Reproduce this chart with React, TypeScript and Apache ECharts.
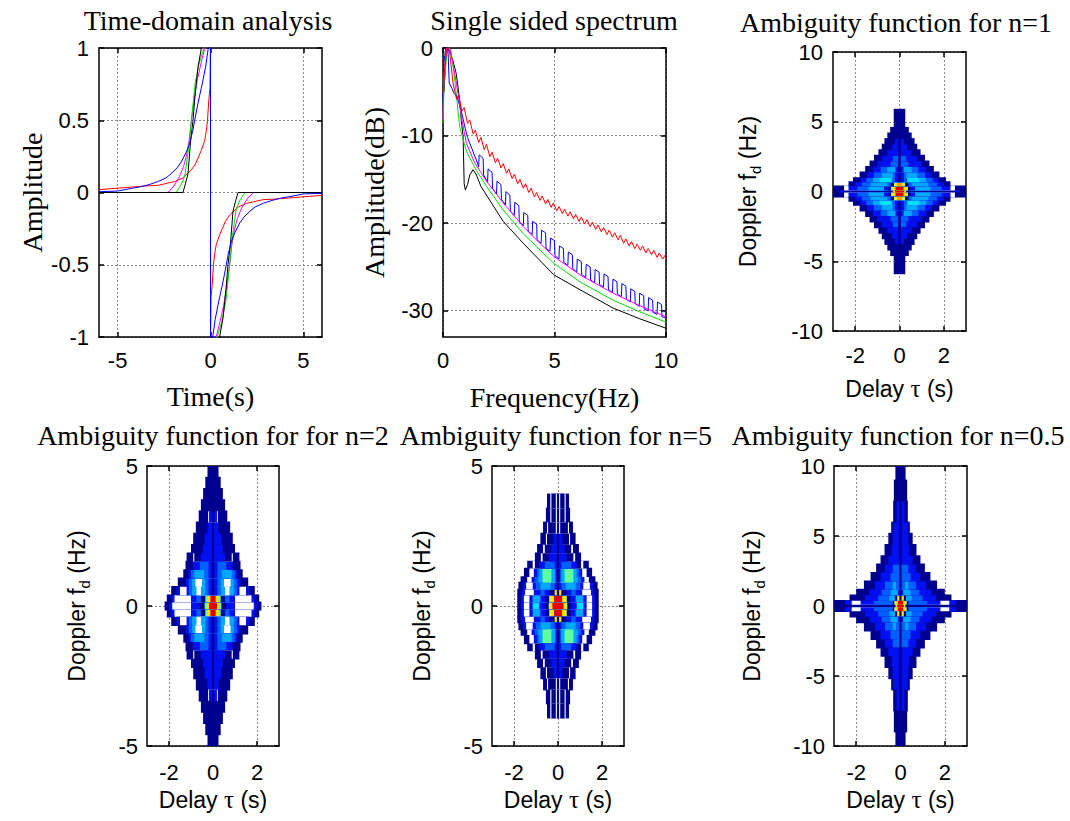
import React, { useEffect, useRef } from "react";
import * as echarts from "echarts";

// ---------- Time-domain analysis (t < 0 half; the curves are odd in t) ----------
const TIME_RED: number[][] = [[-6, 0.02], [-4.5, 0.035], [-3.5, 0.045], [-2.8, 0.05], [-2.3, 0.065], [-1.94, 0.075], [-1.5, 0.1], [-1.03, 0.156], [-0.8, 0.2], [-0.67, 0.24], [-0.5, 0.29], [-0.31, 0.36], [-0.22, 0.43], [-0.16, 0.5], [-0.09, 0.64], [-0.03, 0.72]];
const TIME_MAGENTA: number[][] = [[-6, 0], [-2.3, 0], [-2.0, 0.04], [-1.67, 0.11], [-1.45, 0.18], [-1.3, 0.25], [-1.15, 0.36], [-1.03, 0.5], [-0.9, 0.62], [-0.71, 0.78], [-0.5, 0.9], [-0.31, 1.0], [-0.2, 1.05]];
const TIME_GREEN: number[][] = [[-6, 0], [-1.85, 0], [-1.6, 0.05], [-1.39, 0.11], [-1.18, 0.3], [-1.03, 0.5], [-0.82, 0.76], [-0.6, 0.9], [-0.35, 1.0], [-0.25, 1.05]];
const TIME_BLACK: number[][] = [[-6, 0], [-1.48, 0], [-1.35, 0.06], [-1.21, 0.13], [-1.07, 0.36], [-0.94, 0.5], [-0.82, 0.69], [-0.67, 0.87], [-0.49, 1.0], [-0.4, 1.05]];
const TIME_BLUE: number[][] = [[-6, 0.005], [-5, 0.01], [-4.2, 0.03], [-3.75, 0.04], [-3.3, 0.055], [-2.84, 0.075], [-2.4, 0.1], [-2.12, 0.13], [-1.8, 0.17], [-1.58, 0.21], [-1.3, 0.28], [-1.12, 0.34], [-0.95, 0.43], [-0.85, 0.5], [-0.67, 0.62], [-0.5, 0.72], [-0.4, 0.78], [-0.25, 0.88], [-0.13, 0.99], [-0.05, 1.05]];

// ---------- Single sided spectrum (Hz, dB) ----------
const SPEC_RED: number[][] = [[0, -5], [0.1, -1.5], [0.2, 0], [0.3, -0.5], [0.45, -4.0], [0.6, -5.8], [0.7, -5.4], [0.85, -7.2], [0.95, -6.8], [1.1, -8.6], [1.2, -8.2], [1.35, -9.8], [1.45, -9.4], [1.6, -10.8], [1.7, -10.2], [1.85, -11.6], [1.95, -11.0], [2.1, -12.4], [2.2, -11.9], [2.35, -13.1], [2.45, -12.6], [2.6, -13.7], [2.7, -13.2], [2.85, -14.3], [2.95, -13.8], [3.1, -14.9], [3.2, -14.4], [3.35, -15.5], [3.45, -15.0], [3.6, -16.0], [3.7, -15.5], [3.85, -16.5], [3.95, -16.0], [4.1, -17.0], [4.2, -16.5], [4.35, -17.4], [4.45, -16.9], [4.6, -17.8], [4.7, -17.3], [4.85, -18.2], [4.95, -17.7], [5.1, -18.6], [5.2, -18.1], [5.35, -18.9], [5.45, -18.4], [5.6, -19.2], [5.7, -18.7], [5.85, -19.5], [5.95, -19.0], [6.1, -19.8], [6.2, -19.3], [6.35, -20.1], [6.45, -19.6], [6.6, -20.4], [6.7, -19.9], [6.85, -20.7], [6.95, -20.2], [7.1, -21.0], [7.2, -20.5], [7.35, -21.3], [7.45, -20.8], [7.6, -21.6], [7.7, -21.1], [7.85, -21.9], [7.95, -21.4], [8.1, -22.3], [8.2, -21.8], [8.35, -22.6], [8.45, -22.1], [8.6, -22.9], [8.7, -22.4], [8.85, -23.1], [8.95, -22.6], [9.1, -23.4], [9.2, -22.9], [9.35, -23.6], [9.45, -23.1], [9.6, -23.9], [9.7, -23.4], [9.85, -24.1], [9.95, -23.7], [10, -24.0]];
const SPEC_BLUE: number[][] = [[0, -6], [0.05, -1.5], [0.12, 0], [0.22, 0], [0.28, -4.0], [0.4, -4.6], [0.5, -5.2], [0.6, -5.4], [0.7, -6.2], [0.8, -7.0], [0.9, -8.1], [1.0, -9.2], [1.1, -10.2], [1.2, -10.9], [1.3, -11.5], [1.4, -12.2], [1.5, -12.8],
  [1.6, -13.6], [1.62, -12.2], [1.8, -12.6], [1.82, -14.5], [2.0, -15.3], [2.02, -13.8], [2.2, -14.2], [2.22, -16.0], [2.4, -16.7], [2.42, -15.2], [2.6, -15.6], [2.62, -17.3], [2.8, -17.9], [2.82, -16.4], [3.0, -16.8], [3.02, -18.6], [3.2, -19.1], [3.22, -17.6], [3.4, -18.0], [3.42, -19.8], [3.6, -20.3], [3.62, -18.8], [3.8, -19.1], [3.82, -20.9], [4.0, -21.3], [4.02, -19.8], [4.2, -20.1], [4.22, -21.9], [4.4, -22.3], [4.42, -20.8], [4.6, -21.1], [4.62, -22.9], [4.8, -23.2], [4.82, -21.7], [5.0, -22.0], [5.02, -23.7], [5.2, -24.1], [5.22, -22.6], [5.4, -22.9], [5.42, -24.5], [5.6, -24.8], [5.62, -23.3], [5.8, -23.6], [5.82, -25.2], [6.0, -25.6], [6.02, -24.1], [6.2, -24.4], [6.22, -25.9], [6.4, -26.2], [6.42, -24.7], [6.6, -25.0], [6.62, -26.5], [6.8, -26.8], [6.82, -25.3], [7.0, -25.6], [7.02, -27.0], [7.2, -27.3], [7.22, -25.8], [7.4, -26.1], [7.42, -27.6], [7.6, -27.9], [7.62, -26.4], [7.8, -26.7], [7.82, -28.1], [8.0, -28.4], [8.02, -26.9], [8.2, -27.2], [8.22, -28.7], [8.4, -29.0], [8.42, -27.5], [8.6, -27.8], [8.62, -29.2], [8.8, -29.5], [8.82, -28.0], [9.0, -28.3], [9.02, -29.8], [9.2, -30.0], [9.22, -28.5], [9.4, -28.8], [9.42, -30.2], [9.6, -30.4], [9.62, -29.0], [9.8, -29.3], [9.82, -30.7], [10, -30.8]];
const SPEC_MAGENTA: number[][] = [[0, -8.2], [0.05, -3], [0.15, 0], [0.3, 0], [0.45, -1.8], [0.6, -4.0], [0.82, -7.8], [1.05, -10.9], [1.42, -13.1], [1.95, -15.2], [2.7, -17.7], [3.6, -20.4], [4.3, -22.2], [4.97, -23.8], [6.14, -25.9], [7.63, -28.0], [8.8, -29.4], [10, -30.7]];
const SPEC_GREEN: number[][] = [[0, -8.5], [0.05, -4], [0.2, 0], [0.35, -0.2], [0.5, -3], [0.75, -9.0], [1.05, -11.8], [1.5, -14.0], [1.95, -15.8], [2.7, -18.5], [3.6, -21.2], [4.97, -24.6], [6.14, -26.7], [7.63, -28.8], [8.8, -30.1], [10, -31.3]];
const SPEC_BLACK: number[][] = [[0.05, -5], [0.15, 0], [0.3, -0.3], [0.45, -1.5], [0.6, -3], [0.75, -6], [0.82, -8.3], [0.9, -10], [0.95, -15.5], [1.0, -16.2], [1.1, -15.6], [1.2, -14.5], [1.35, -13.9], [1.5, -14.5], [1.7, -15.8], [2.0, -17.0], [2.7, -19.8], [3.6, -22.3], [4.97, -25.9], [6.14, -27.6], [7.63, -29.7], [8.8, -30.9], [10, -32.0]];

// ---------- Ambiguity functions: upper-half doppler bands [from, to] (Hz) with
// [colour level, outer delay edge (s)] segments read from the axis outward ----------
type Row = [number, number, number[][]];
const AF_N1_ROWS: Row[] = [
  [0, 0.1, [[9, 0.2], [10, 0.3], [1, 2.5], [2, 2.7], [1, 3.0]]],
  [0.1, 0.4, [[9, 0.18], [10, 0.3], [7, 0.38], [1, 0.5], [2, 0.7], [4, 1.4], [3, 1.9], [2, 2.3], [0, 2.5], [1, 3.0]]],
  [0.4, 0.7, [[8, 0.12], [7, 0.25], [1, 0.4], [3, 0.55], [4, 1.3], [3, 1.7], [2, 2.0], [1, 2.3]]],
  [0.7, 1.0, [[1, 0.06], [2, 0.2], [3, 0.35], [5, 0.9], [4, 1.2], [3, 1.5], [2, 1.75], [1, 2.1]]],
  [1.0, 1.4, [[1, 0.06], [2, 0.2], [3, 0.3], [4, 0.8], [3, 1.15], [2, 1.45], [1, 1.8]]],
  [1.4, 1.8, [[1, 0.06], [2, 0.18], [4, 0.55], [3, 0.85], [2, 1.2], [1, 1.55]]],
  [1.8, 2.2, [[1, 0.06], [3, 0.4], [2, 1.0], [1, 1.35]]],
  [2.2, 2.6, [[1, 0.06], [3, 0.3], [2, 0.8], [1, 1.15]]],
  [2.6, 3.0, [[1, 0.06], [2, 0.55], [1, 0.95]]],
  [3.0, 3.4, [[1, 0.06], [2, 0.35], [1, 0.8]]],
  [3.4, 3.8, [[1, 0.06], [2, 0.2], [1, 0.68]]],
  [3.8, 4.2, [[1, 0.55]]],
  [4.2, 4.6, [[1, 0.42]]],
  [4.6, 5.9, [[1, 0.26]]],
];
const AF_N2_ROWS: Row[] = [
  [0, 0.15, [[9, 0.18], [10, 0.28], [6, 0.38], [1, 0.6], [2, 1.0], [0, 1.85], [2, 2.0], [1, 2.2]]],
  [0.15, 0.4, [[9, 0.12], [10, 0.25], [6, 0.35], [1, 0.55], [3, 0.75], [2, 1.0], [0, 1.75], [2, 1.9], [1, 2.1]]],
  [0.4, 0.7, [[1, 0.05], [2, 0.2], [3, 0.35], [4, 0.55], [0, 0.75], [4, 0.95], [3, 1.1], [2, 1.2], [0, 1.5], [2, 1.65], [1, 1.9]]],
  [0.7, 1.0, [[1, 0.05], [2, 0.2], [3, 0.35], [4, 0.5], [0, 0.8], [4, 0.95], [3, 1.1], [2, 1.25], [1, 1.6]]],
  [1.0, 1.3, [[1, 0.05], [2, 0.2], [3, 0.4], [4, 0.85], [3, 1.0], [2, 1.1], [1, 1.35]]],
  [1.3, 1.6, [[1, 0.05], [2, 0.2], [3, 0.6], [2, 0.9], [1, 1.25]]],
  [1.6, 1.9, [[1, 0.05], [2, 0.55], [1, 0.85], [0, 0.9], [1, 1.2]]],
  [1.9, 2.2, [[1, 0.05], [2, 0.45], [1, 1.0]]],
  [2.2, 2.6, [[1, 0.05], [2, 0.38], [1, 0.9]]],
  [2.6, 3.0, [[1, 0.05], [2, 0.25], [1, 0.78]]],
  [3.0, 3.4, [[1, 0.05], [2, 0.18], [0, 0.22], [1, 0.65]]],
  [3.4, 3.8, [[1, 0.55]]],
  [3.8, 4.2, [[1, 0.45]]],
  [4.2, 4.6, [[1, 0.35]]],
  [4.6, 5.0, [[1, 0.25]]],
];
const AF_N5_ROWS: Row[] = [
  [0, 0.15, [[9, 0.25], [10, 0.35], [7, 0.42], [1, 0.6], [2, 0.85], [5, 1.15], [2, 1.3], [0, 1.55], [2, 1.68], [1, 1.85]]],
  [0.15, 0.4, [[9, 0.18], [10, 0.3], [7, 0.4], [1, 0.58], [2, 0.8], [4, 1.15], [2, 1.3], [0, 1.55], [2, 1.68], [1, 1.85]]],
  [0.4, 0.6, [[1, 0.05], [10, 0.15], [1, 0.4], [2, 0.6], [3, 0.8], [2, 1.1], [0, 1.5], [2, 1.65], [1, 1.85]]],
  [0.6, 0.85, [[1, 0.05], [2, 0.15], [3, 0.35], [4, 0.8], [3, 1.0], [2, 1.15], [0, 1.45], [2, 1.6], [1, 1.8]]],
  [0.85, 1.05, [[1, 0.05], [2, 0.12], [4, 0.3], [6, 0.7], [4, 0.9], [3, 1.05], [2, 1.2], [0, 1.4], [1, 1.7]]],
  [1.05, 1.35, [[1, 0.05], [2, 0.12], [4, 0.3], [6, 0.7], [4, 0.85], [3, 0.95], [2, 1.1], [0, 1.3], [1, 1.55]]],
  [1.35, 1.6, [[1, 0.05], [2, 0.15], [3, 0.6], [2, 0.85], [1, 1.05], [0, 1.15], [1, 1.4]]],
  [1.6, 1.9, [[1, 0.05], [2, 0.4], [1, 0.7], [0, 0.78], [1, 1.05]]],
  [1.9, 2.2, [[1, 0.05], [2, 0.3], [1, 0.6], [0, 0.68], [1, 0.95]]],
  [2.2, 2.6, [[1, 0.05], [2, 0.2], [1, 0.5], [0, 0.55], [1, 0.8]]],
  [2.6, 3.0, [[1, 0.05], [0, 0.1], [1, 0.45], [0, 0.5], [1, 0.68]]],
  [3.0, 3.5, [[1, 0.05], [0, 0.1], [1, 0.3], [0, 0.35], [1, 0.55]]],
  [3.5, 4.0, [[1, 0.05], [0, 0.1], [1, 0.3], [0, 0.35], [1, 0.5]]],
];
const AF_N05_ROWS: Row[] = [
  [0, 0.12, [[9, 0.15], [10, 0.22], [1, 3.0]]],
  [0.12, 0.4, [[9, 0.12], [10, 0.2], [7, 0.28], [1, 0.35], [3, 1.2], [2, 1.8], [0, 2.2], [2, 2.5], [1, 3.0]]],
  [0.4, 0.8, [[1, 0.05], [10, 0.15], [1, 0.25], [4, 0.5], [3, 1.0], [2, 1.6], [1, 2.3]]],
  [0.8, 1.2, [[1, 0.05], [2, 0.12], [4, 0.45], [3, 0.85], [2, 1.4], [1, 2.0]]],
  [1.2, 1.8, [[1, 0.05], [3, 0.2], [4, 0.35], [3, 0.7], [2, 1.15], [1, 1.65]]],
  [1.8, 2.4, [[1, 0.05], [3, 0.45], [2, 0.9], [1, 1.35]]],
  [2.4, 3.0, [[1, 0.05], [3, 0.35], [2, 0.7], [1, 1.1]]],
  [3.0, 3.6, [[1, 0.05], [2, 0.55], [1, 0.9]]],
  [3.6, 4.4, [[1, 0.05], [2, 0.4], [1, 0.72]]],
  [4.4, 5.2, [[1, 0.05], [2, 0.35], [1, 0.55]]],
  [5.2, 6.0, [[1, 0.05], [2, 0.33], [1, 0.42]]],
  [6.0, 7.5, [[1, 0.05], [2, 0.18], [1, 0.33]]],
  [7.5, 9.0, [[1, 0.3]]],
  [9.0, 10.0, [[1, 0.23]]],
];
const LEVEL_COLORS = ["#FFFFFF", "#00008F", "#0010F0", "#0060FF", "#00A8FF", "#00E0FF", "#60FFA0", "#C8FF38", "#FF9A00", "#E00000", "#FFE000"];

// ---------- layout / styling ----------
const SANS = "'Liberation Sans', Arial, sans-serif";
const SERIF = "'Liberation Serif', 'Times New Roman', serif";
const TITLES = ["Time-domain analysis", "Single sided spectrum", "Ambiguity function for n=1", "Ambiguity function for for n=2", "Ambiguity function for n=5", "Ambiguity function for n=0.5"];

function oddCurve(left: number[][]): number[][] {
  const right = left.slice().reverse().map(([x, y]) => [-x, -y]);
  return [...left, [0, 1.05], [0, -1.05], ...right];
}

function contourData(rows: Row[]): number[][] {
  const out: number[][] = [];
  for (const [y0, y1, segs] of rows) {
    for (let k = segs.length - 1; k >= 0; k--) {
      const [lvl, edge] = segs[k];
      out.push([edge, y0, y1, lvl]);
      out.push([edge, -y1, -y0, lvl]);
    }
  }
  return out;
}

function renderRect(params: any, api: any) {
  const edge = api.value(0), y0 = api.value(1), y1 = api.value(2), lvl = api.value(3);
  const a = api.coord([-edge, y1]);
  const b = api.coord([edge, y0]);
  return {
    type: "rect",
    shape: { x: a[0], y: a[1] - 0.4, width: b[0] - a[0], height: b[1] - a[1] + 0.8 },
    style: { fill: LEVEL_COLORS[lvl] },
  };
}

function buildOption() {
  const grids = [
    { left: 99, top: 48, width: 223, height: 289 },
    { left: 443, top: 48, width: 223, height: 289 },
    { left: 833, top: 52, width: 133, height: 279 },
    { left: 147, top: 466, width: 132, height: 280 },
    { left: 492, top: 466, width: 132, height: 280 },
    { left: 834, top: 466, width: 133, height: 280 },
  ];
  const xDefs = [
    { min: -6, max: 6, ticks: [-5, 0, 5] },
    { min: 0, max: 10, ticks: [0, 5, 10] },
    { min: -3, max: 3, ticks: [-2, 0, 2] },
    { min: -3, max: 3, ticks: [-2, 0, 2] },
    { min: -3, max: 3, ticks: [-2, 0, 2] },
    { min: -3, max: 3, ticks: [-2, 0, 2] },
  ];
  const yDefs = [
    { min: -1, max: 1, ticks: [-1, -0.5, 0, 0.5, 1] },
    { min: -33, max: 0, ticks: [-30, -20, -10, 0] },
    { min: -10, max: 10, ticks: [-10, -5, 0, 5, 10] },
    { min: -5, max: 5, ticks: [-5, 0, 5] },
    { min: -5, max: 5, ticks: [-5, 0, 5] },
    { min: -10, max: 10, ticks: [-10, -5, 0, 5, 10] },
  ];
  const serifName = { fontFamily: SERIF, fontSize: 28, color: "#000" };
  const delayName = { fontFamily: SANS, fontSize: 23, color: "#000", rich: { t: { fontFamily: SERIF, fontSize: 25, color: "#000" } } };
  const dopplerName = {
    fontFamily: SANS, fontSize: 23, color: "#000", lineHeight: 30,
    rich: { sub: { fontFamily: SANS, fontSize: 15, color: "#000", lineHeight: 30, verticalAlign: "bottom" } },
  };
  const xNames = [
    { name: "Time(s)", gap: 45, style: serifName },
    { name: "Frequency(Hz)", gap: 46, style: serifName },
    { name: "Delay {t|τ} (s)", gap: 45, style: delayName },
    { name: "Delay {t|τ} (s)", gap: 41, style: delayName },
    { name: "Delay {t|τ} (s)", gap: 41, style: delayName },
    { name: "Delay {t|τ} (s)", gap: 41, style: delayName },
  ];
  const yNames = [
    { name: "Amplitude", gap: 53, style: serifName },
    { name: "Amplitude(dB)", gap: 55, style: serifName },
    { name: "Doppler f{sub|d} (Hz)", gap: 70, style: dopplerName },
    { name: "Doppler f{sub|d} (Hz)", gap: 55, style: dopplerName },
    { name: "Doppler f{sub|d} (Hz)", gap: 55, style: dopplerName },
    { name: "Doppler f{sub|d} (Hz)", gap: 67, style: dopplerName },
  ];
  const xMargins = [12, 12, 13, 15, 15, 15];
  const yMargins = [10, 10, 10, 9, 9, 9];

  const line = { color: "#000", width: 1.5 };
  const tick = (ticks: number[]) => ({ show: true, inside: true, length: 5, customValues: ticks, lineStyle: { color: "#000", width: 1.5 } });
  const split = { show: true, lineStyle: { type: [2, 2], color: "#888", width: 1 } };

  const xAxis: any[] = [];
  const yAxis: any[] = [];
  for (let i = 0; i < 6; i++) {
    xAxis.push({
      type: "value", gridIndex: i, position: "bottom", min: xDefs[i].min, max: xDefs[i].max,
      axisLine: { show: true, onZero: false, lineStyle: line },
      axisTick: tick(xDefs[i].ticks),
      axisLabel: { show: true, customValues: xDefs[i].ticks, margin: xMargins[i], color: "#000", fontFamily: SANS, fontSize: 22 },
      splitLine: split,
      name: xNames[i].name, nameLocation: "middle", nameGap: xNames[i].gap, nameTextStyle: xNames[i].style,
    });
    yAxis.push({
      type: "value", gridIndex: i, position: "left", min: yDefs[i].min, max: yDefs[i].max,
      axisLine: { show: true, onZero: false, lineStyle: line },
      axisTick: tick(yDefs[i].ticks),
      axisLabel: { show: true, customValues: yDefs[i].ticks, margin: yMargins[i], color: "#000", fontFamily: SANS, fontSize: 22 },
      splitLine: split,
      name: yNames[i].name, nameLocation: "middle", nameGap: yNames[i].gap, nameTextStyle: yNames[i].style,
    });
  }
  for (let i = 0; i < 6; i++) {
    xAxis.push({
      type: "value", gridIndex: i, position: "top", min: xDefs[i].min, max: xDefs[i].max,
      axisLine: { show: true, onZero: false, lineStyle: line }, axisTick: tick(xDefs[i].ticks),
      axisLabel: { show: false }, splitLine: { show: false },
    });
    yAxis.push({
      type: "value", gridIndex: i, position: "right", min: yDefs[i].min, max: yDefs[i].max,
      axisLine: { show: true, onZero: false, lineStyle: line }, axisTick: tick(yDefs[i].ticks),
      axisLabel: { show: false }, splitLine: { show: false },
    });
  }

  const lineSeries = (axis: number, data: number[][], color: string) => ({
    type: "line", xAxisIndex: axis, yAxisIndex: axis, data, showSymbol: false, symbol: "none",
    lineStyle: { color, width: 1 }, clip: true, silent: true,
  });

  const series: any[] = [
    lineSeries(0, oddCurve(TIME_RED), "#FF0000"),
    lineSeries(0, oddCurve(TIME_MAGENTA), "#FF00FF"),
    lineSeries(0, oddCurve(TIME_GREEN), "#00DD00"),
    lineSeries(0, oddCurve(TIME_BLACK), "#000000"),
    lineSeries(0, oddCurve(TIME_BLUE), "#0000FF"),
    lineSeries(1, SPEC_BLACK, "#000000"),
    lineSeries(1, SPEC_GREEN, "#00DD00"),
    lineSeries(1, SPEC_BLUE, "#0000FF"),
    lineSeries(1, SPEC_MAGENTA, "#FF00FF"),
    lineSeries(1, SPEC_RED, "#FF0000"),
  ];
  const afRows = [AF_N1_ROWS, AF_N2_ROWS, AF_N5_ROWS, AF_N05_ROWS];
  afRows.forEach((rows, k) => {
    series.push({
      type: "custom", xAxisIndex: k + 2, yAxisIndex: k + 2, data: contourData(rows),
      encode: { x: 0, y: [1, 2] }, renderItem: renderRect, clip: true, silent: true,
    });
  });

  const titleCenters = [208, 554, 896, 213, 556, 898];
  const titleTops = [6, 6, 8, 421, 421, 421];
  const title = TITLES.map((t, i) => ({
    text: t, left: titleCenters[i], top: titleTops[i], textAlign: "center", padding: 0,
    textStyle: { fontFamily: SERIF, fontSize: 28, lineHeight: 28, fontWeight: "normal", color: "#000" },
  }));

  return { animation: false, backgroundColor: "#fff", title, grid: grids, xAxis, yAxis, series };
}

export default function App() {
  const ref = useRef<HTMLDivElement>(null);
  useEffect(() => {
    const chart = echarts.init(ref.current!, null, { renderer: "svg" });
    chart.setOption(buildOption() as any);
    return () => chart.dispose();
  }, []);
  return <div ref={ref} style={{ position: "fixed", left: 0, top: 0, width: 1070, height: 821, background: "#fff" }} />;
}
